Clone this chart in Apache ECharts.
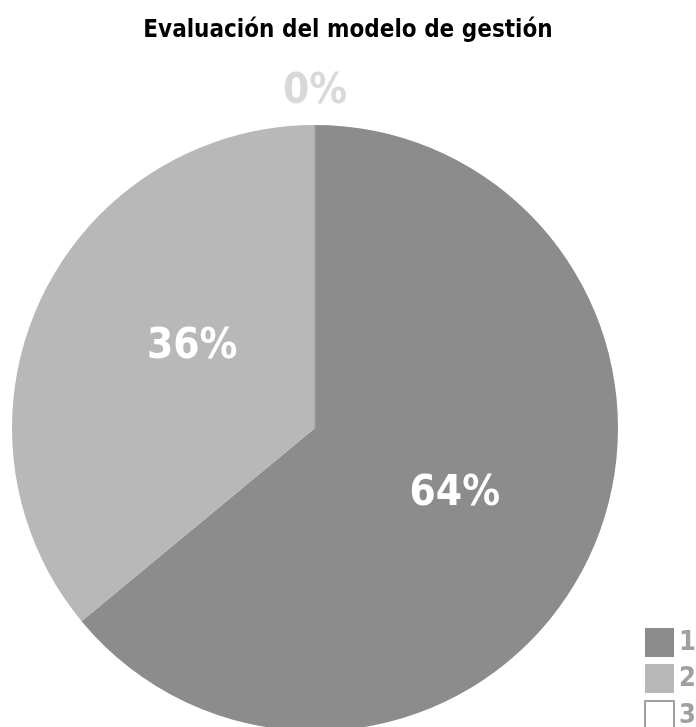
<!DOCTYPE html>
<html>
<head>
<meta charset="utf-8">
<script src="https://cdn.jsdelivr.net/npm/echarts@6/dist/echarts.min.js"></script>
<style>
  html, body { margin: 0; padding: 0; background: #ffffff; }
  #chart { width: 696px; height: 727px; }
</style>
</head>
<body>
<div id="chart"></div>
<script>
// Survey result shares
const categories = ['1', '2', '3'];
const shares = [64, 36, 0];
const sliceColors = ['#8c8c8c', '#b8b8b8', '#ffffff'];

const FONT = '"DejaVu Sans Condensed", "Liberation Sans Narrow", "Open Sans", sans-serif';

// small nudges for the percentage labels (dataIndex -> [dx, dy])
const labelNudge = { 1: [17, -15], 2: [5, 0] };

const pieData = categories.map((name, i) => {
  const item = {
    name: name,
    value: shares[i],
    itemStyle: { color: sliceColors[i] }
  };
  if (shares[i] === 0) {
    item.itemStyle.borderColor = '#a0a0a0';
    item.itemStyle.borderWidth = 1;
    item.label = { position: 'outside', color: '#d9d9d9' };
    item.labelLine = { show: false, length: 33, length2: 0 };
  }
  return item;
});

const chart = echarts.init(document.getElementById('chart'), null, { renderer: 'canvas' });
chart.setOption({
  animation: false,
  title: {
    text: 'Evaluación del modelo de gestión',
    left: 'center',
    top: 14,
    textStyle: { fontFamily: FONT, fontWeight: 'bold', fontSize: 24, color: '#000000' }
  },
  legend: {
    orient: 'vertical',
    left: 644,
    top: 628,
    height: 130,
    padding: 0,
    itemWidth: 29,
    itemHeight: 29,
    itemGap: 7,
    icon: 'rect',
    data: categories,
    textStyle: { fontFamily: FONT, fontWeight: 'bold', fontSize: 27, color: '#a0a0a0' }
  },
  series: [{
    type: 'pie',
    center: [315, 428],
    radius: 303,
    startAngle: 90,
    clockwise: true,
    avoidLabelOverlap: false,
    label: {
      show: true,
      position: 'inside',
      formatter: '{d}%',
      fontFamily: FONT,
      fontWeight: 'bold',
      fontSize: 42,
      color: '#ffffff'
    },
    labelLine: { show: false },
    labelLayout: function (params) {
      const n = labelNudge[params.dataIndex];
      const out = {};
      if (params.dataIndex === 2) out.align = 'center';
      if (n) { out.dx = n[0]; out.dy = n[1]; }
      return out;
    },
    emphasis: { disabled: true },
    data: pieData
  }]
});
</script>
</body>
</html>
